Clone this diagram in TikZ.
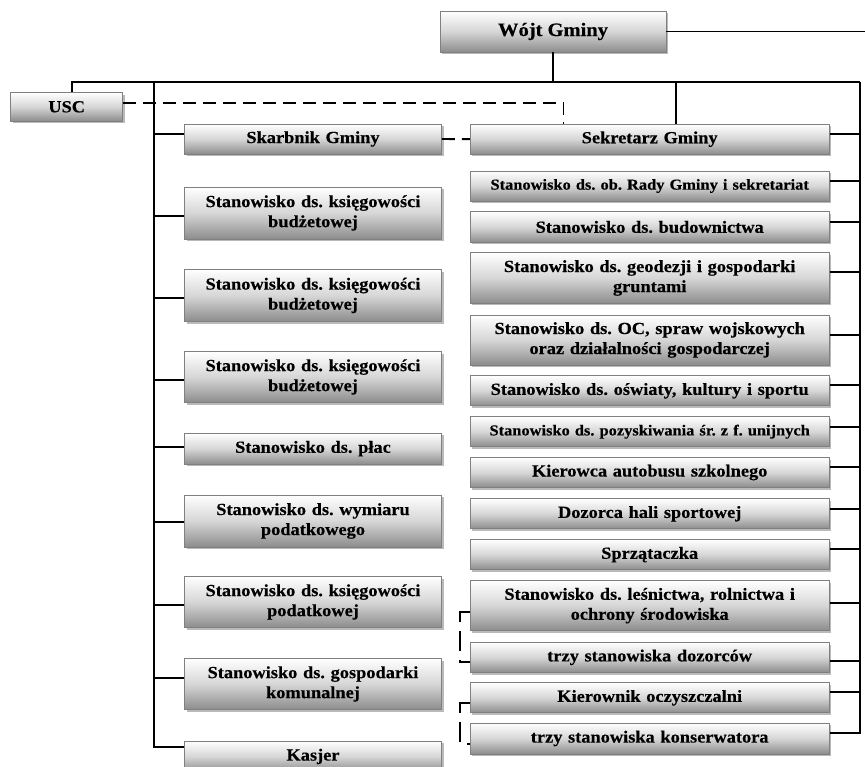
\documentclass[tikz,border=0pt]{standalone}
\usepackage{fontspec}
\newfontfamily\boxfont{Liberation Serif}[FakeStretch=1.08, BoldFeatures={FakeBold=0.4}]
\usetikzlibrary{shadows,calc}
\newcommand\lbr[2]{\path ([yshift=#2pt]#1.west) coordinate (#1c); \draw[conn] (#1c) -- (#1c -| lv);}
\newcommand\rbr[2]{\path ([yshift=#2pt]#1.east) coordinate (#1c); \draw[conn] (#1c) -- (#1c -| hr);}
\tikzset{
  orgbox/.style={draw=black!50, line width=0.7pt, top color=white, bottom color=black!45, middle color=black!16,
    align=center, inner sep=1pt, text=black,
    font=\boxfont\bfseries\fontsize{17}{20}\selectfont,
    drop shadow={shadow xshift=2.2pt, shadow yshift=-2.2pt, fill=black!45, opacity=0.6}},
  lbox/.style={orgbox, text width=255pt, minimum width=257pt},
  rbox/.style={orgbox, text width=357pt, minimum width=359pt},
  smalltext/.style={font=\boxfont\bfseries\fontsize{15.2}{18}\selectfont},
  conn/.style={line width=1.9pt, black},
  dashline/.style={line width=1.9pt, black, dash pattern=on 13pt off 7pt},
  bracket/.style={line width=1.9pt, black, dash pattern=on 20pt off 9pt},
}
\frenchspacing
\begin{document}
\frenchspacing
\begin{tikzpicture}[x=1pt,y=-1pt]
\useasboundingbox (0,0) rectangle (865,767);
\fill[white] (0,0) rectangle (865,767);

% top
\node[orgbox, minimum width=226pt, minimum height=41pt, font=\boxfont\bfseries\fontsize{19}{22}\selectfont] (wojt) at (553,31.5) {Wójt Gminy};
\node[orgbox, minimum width=112pt, minimum height=28.5pt] (usc) at (66.7,106.8) {USC};

% left column
\node[lbox, minimum height=30pt] (skarb) at (313,139) {Skarbnik Gminy};
\node[lbox, minimum height=52pt] (b1) at (313,213) {Stanowisko ds. księgowości\\budżetowej};
\node[lbox, minimum height=52pt] (b2) at (313,295.5) {Stanowisko ds. księgowości\\budżetowej};
\node[lbox, minimum height=51pt] (b3) at (313,377) {Stanowisko ds. księgowości\\budżetowej};
\node[lbox, minimum height=31pt] (b4) at (313,448.7) {Stanowisko ds. płac};
\node[lbox, minimum height=52pt] (b5) at (313,521) {Stanowisko ds. wymiaru\\podatkowego};
\node[lbox, minimum height=51pt] (b6) at (313,602) {Stanowisko ds. księgowości\\podatkowej};
\node[lbox, minimum height=51pt] (b7) at (313,684) {Stanowisko ds. gospodarki\\komunalnej};
\node[lbox, minimum height=31pt] (kas) at (313,756.5) {Kasjer};

% right column
\node[rbox, minimum height=30pt] (sek) at (649.7,139.2) {Sekretarz Gminy};
\node[rbox, minimum height=30pt, smalltext] (r1) at (649.7,186) {Stanowisko ds. ob. Rady Gminy i sekretariat};
\node[rbox, minimum height=30.6pt] (r2) at (649.7,227) {Stanowisko ds. budownictwa};
\node[rbox, minimum height=50.6pt] (r3) at (649.7,278) {Stanowisko ds. geodezji i gospodarki\\gruntami};
\node[rbox, minimum height=50pt] (r4) at (649.7,340) {Stanowisko ds. OC, spraw wojskowych\\oraz działalności gospodarczej};
\node[rbox, minimum height=30pt] (r5) at (649.7,390.8) {Stanowisko ds. oświaty, kultury i sportu};
\node[rbox, minimum height=30pt, smalltext] (r6) at (649.7,431.7) {Stanowisko ds. pozyskiwania śr. z f. unijnych};
\node[rbox, minimum height=30pt] (r7) at (649.7,472.5) {Kierowca autobusu szkolnego};
\node[rbox, minimum height=30pt] (r8) at (649.7,513.8) {Dozorca hali sportowej};
\node[rbox, minimum height=30pt] (r9) at (649.7,554.7) {Sprzątaczka};
\node[rbox, minimum height=50pt] (r10) at (649.7,605.7) {Stanowisko ds. leśnictwa, rolnictwa i\\ochrony środowiska};
\node[rbox, minimum height=30pt] (r11) at (649.7,657.3) {trzy stanowiska dozorców};
\node[rbox, minimum height=30pt] (r12) at (649.7,697.8) {Kierownik oczyszczalni};
\node[rbox, minimum height=31pt] (r13) at (649.7,738.5) {trzy stanowiska konserwatora};

% bus coordinates
\coordinate (hl) at (72,82);
\coordinate (hr) at (860,82);
\coordinate (lv) at (154,82);
\coordinate (sv) at (676,82);
\coordinate (wend) at (865,31.5);
\coordinate (dk) at (563.5,102.7);
\coordinate (bx) at (460,0);

% main connectors
\draw[conn] (wojt.east) -- (wend);
\draw[conn] (wojt.south) -- (wojt.south |- hl);
\draw[conn] (hl |- usc.north) -- (hl) -- (hr);
\draw[conn] (sv) -- (sv |- sek.north);

% left branches
\lbr{skarb}{5}
\lbr{b1}{-2.7}
\lbr{b2}{-2.2}
\lbr{b3}{-3}
\lbr{b4}{2}
\lbr{b5}{-0.7}
\lbr{b6}{-3}
\lbr{b7}{5.7}
\path ([yshift=9.8pt]kas.west) coordinate (kasc);
\draw[conn] (lv) -- (lv |- kasc) -- (kasc);

% right branches
\rbr{sek}{5.2}
\rbr{r1}{5.3}
\rbr{r2}{5.3}
\rbr{r3}{5.7}
\rbr{r4}{5}
\rbr{r5}{5.8}
\rbr{r6}{5}
\rbr{r7}{5.8}
\rbr{r8}{4.8}
\rbr{r9}{5.7}
\rbr{r10}{3}
\rbr{r11}{-3.4}
\rbr{r12}{6.1}
\path ([yshift=5.8pt]r13.east) coordinate (r13c);
\draw[conn] (hr) -- (hr |- r13c) -- (r13c);

% dashed links
\path ([yshift=4.1pt]usc.east) coordinate (uscc);
\draw[dashline] (uscc) -- (uscc -| dk) -- (dk |- sek.north);
\draw[dashline] (skarb.east) -- (sek.west);

% brackets
\path ([yshift=-6pt]r10.west) coordinate (r10d);
\path ([yshift=-4.4pt]r11.west) coordinate (r11d);
\draw[bracket] (r10d) -- (r10d -| bx) -- (r11d -| bx) -- (r11d);
\path ([yshift=-5.5pt]r12.west) coordinate (r12d);
\path ([yshift=-5.5pt]r13.west) coordinate (r13d);
\draw[bracket] (r12d) -- (r12d -| bx) -- (r13d -| bx) -- (r13d);
\end{tikzpicture}
\end{document}
